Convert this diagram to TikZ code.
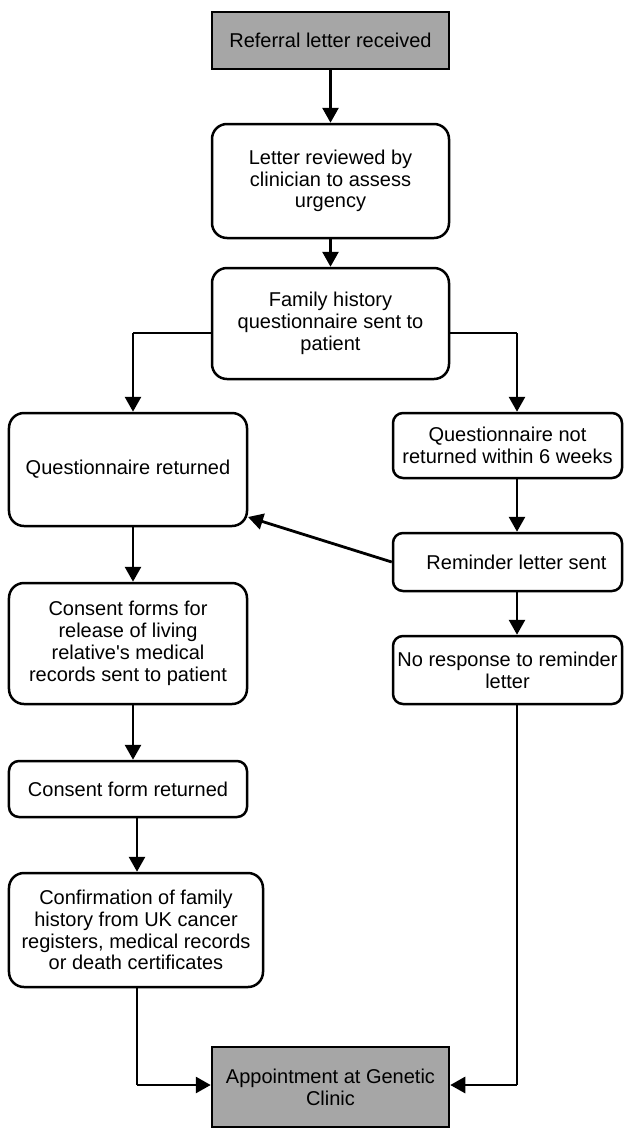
\documentclass[tikz,border=0pt]{standalone}
\usepackage{fontspec}
\setmainfont{Liberation Sans}
\usetikzlibrary{arrows.meta}
\definecolor{boxgray}{RGB}{166,166,166}
\tikzset{
  base/.style={draw=black, line width=2.5bp, align=center, inner sep=0pt,
    font=\fontsize{20bp}{21.8bp}\selectfont},
  graybox/.style={base, fill=boxgray, rectangle},
  roundbox/.style={base, fill=white, rectangle, rounded corners=15bp},
  smallround/.style={base, fill=white, rectangle, rounded corners=10bp},
  arr/.style={line width=2.8bp, -{Triangle[width=16bp,length=15bp]}},
  thinline/.style={line width=1.1bp},
}
\begin{document}
\begin{tikzpicture}[x=1bp,y=-1bp]
\useasboundingbox (0,0) rectangle (626,1128);
% nodes
\node[graybox, minimum width=237bp, minimum height=57bp] (ref) at (330.5,40.5) {Referral letter received};
\node[roundbox, minimum width=237bp, minimum height=114bp] (rev) at (330.5,181) {Letter reviewed by\\clinician to assess\\urgency};
\node[roundbox, minimum width=237bp, minimum height=111bp] (fh) at (330.5,323.5) {Family history\\questionnaire sent to\\patient};
\node[roundbox, minimum width=238bp, minimum height=113bp] (qr) at (128,469.5) {Questionnaire returned};
\node[smallround, minimum width=229bp, minimum height=65bp] (qnr) at (507.5,445.5) {Questionnaire not\\returned within 6 weeks};
\node[smallround, minimum width=229bp, minimum height=58bp] (rem) at (507.5,562) {\hspace*{18bp}Reminder letter sent};
\node[smallround, minimum width=229bp, minimum height=68bp] (nor) at (507.5,670) {No response to reminder\\letter};
\node[roundbox, minimum width=238bp, minimum height=121bp] (cf) at (128,643.5) {Consent forms for\\release of living\\relative\textquotesingle s medical\\records sent to patient};
\node[smallround, minimum width=238bp, minimum height=56bp] (cfr) at (128,789) {Consent form returned};
\node[roundbox, minimum width=254bp, minimum height=114bp] (conf) at (136,930) {Confirmation of family\\history from UK cancer\\registers, medical records\\or death certificates};
\node[graybox, minimum width=237bp, minimum height=80bp] (app) at (330.5,1087) {Appointment at Genetic\\Clinic};
% helper coordinates
\coordinate (fl) at (133,333);
\coordinate (fr) at (517,333);
\coordinate (bl) at (137,1085);
\coordinate (br) at (517,1085);
\coordinate (qrin) at (248,517);
% connectors
\draw[arr] (ref.south) -- (rev.north);
\draw[arr] (rev.south) -- (fh.north);
\draw[thinline] (fh.west |- fl) -- (fl);
\draw[arr] (fl) -- (fl |- qr.north);
\draw[thinline] (fh.east |- fr) -- (fr);
\draw[arr] (fr) -- (fr |- qnr.north);
\draw[arr] (qr.south -| fl) -- (cf.north -| fl);
\draw[arr] (cf.south -| fl) -- (cfr.north -| fl);
\draw[arr] (cfr.south -| bl) -- (conf.north -| bl);
\draw[arr] (qnr.south -| fr) -- (rem.north -| fr);
\draw[arr] (rem.south -| fr) -- (nor.north -| fr);
\draw[arr] (rem.west) -- (qrin);
\draw[thinline] (conf.south -| bl) -- (bl);
\draw[arr] (bl) -- (app.west |- bl);
\draw[thinline] (nor.south -| br) -- (br);
\draw[arr] (br) -- (app.east |- br);
\end{tikzpicture}
\end{document}
